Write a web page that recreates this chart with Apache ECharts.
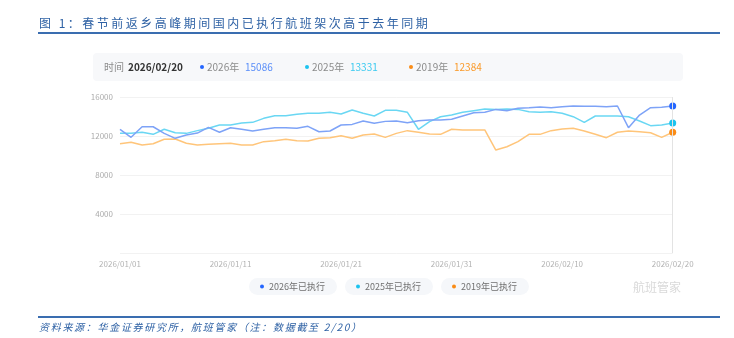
<!DOCTYPE html>
<html>
<head>
<meta charset="utf-8">
<script src="https://cdn.jsdelivr.net/npm/echarts@6/dist/echarts.min.js"></script>
<style>
  html, body { margin: 0; padding: 0; background: #ffffff; }
  #wrap { position: relative; width: 734px; height: 338px; overflow: hidden; }
  #chart { position: absolute; left: 0; top: 0; width: 734px; height: 338px; }
  .cap { position: absolute; white-space: nowrap; font-family: "Noto Sans CJK SC", "Noto Sans", sans-serif; color: #2f62a5; }
  #title { left: 39px; top: 15px; font-size: 12px; line-height: 16px; letter-spacing: 2.5px; }
  #source { left: 39px; top: 320px; font-size: 10px; line-height: 14px; letter-spacing: 1.7px; font-style: italic; }
  .rule { position: absolute; left: 38px; width: 682px; height: 1.5px; background: #3a6db0; }
</style>
</head>
<body>
<div id="wrap">
  <div id="chart"></div>
  <div id="title" class="cap">图 1：春节前返乡高峰期间国内已执行航班架次高于去年同期</div>
  <div class="rule" style="top:32px"></div>
  <div class="rule" style="top:316px"></div>
  <div id="source" class="cap">资料来源：华金证券研究所，航班管家（注：数据截至 2/20）</div>
</div>
<script>
// Daily dates, 2026/01/01 – 2026/02/20
const dates = [
  '2026/01/01','2026/01/02','2026/01/03','2026/01/04','2026/01/05','2026/01/06','2026/01/07','2026/01/08','2026/01/09','2026/01/10',
  '2026/01/11','2026/01/12','2026/01/13','2026/01/14','2026/01/15','2026/01/16','2026/01/17','2026/01/18','2026/01/19','2026/01/20',
  '2026/01/21','2026/01/22','2026/01/23','2026/01/24','2026/01/25','2026/01/26','2026/01/27','2026/01/28','2026/01/29','2026/01/30',
  '2026/01/31','2026/02/01','2026/02/02','2026/02/03','2026/02/04','2026/02/05','2026/02/06','2026/02/07','2026/02/08','2026/02/09',
  '2026/02/10','2026/02/11','2026/02/12','2026/02/13','2026/02/14','2026/02/15','2026/02/16','2026/02/17','2026/02/18','2026/02/19',
  '2026/02/20'
];

// Executed domestic flights per day
const flights2026 = [
  12690, 11870, 12950, 12950, 12270, 11760, 12100, 12300, 12890, 12380,
  12850, 12690, 12510, 12690, 12850, 12850, 12790, 12990, 12440, 12510,
  13130, 13190, 13540, 13300, 13500, 13540, 13370, 13570, 13640, 13640,
  13710, 14050, 14390, 14430, 14730, 14600, 14840, 14900, 14970, 14900,
  15010, 15080, 15040, 15040, 15010, 15080, 12850, 14150, 14900, 14940,
  15086
];
const flights2025 = [
  12270, 12270, 12380, 12170, 12690, 12340, 12270, 12550, 12790, 13130,
  13130, 13330, 13400, 13810, 14080, 14080, 14220, 14330, 14330, 14430,
  14260, 14670, 14330, 14050, 14630, 14630, 14430, 12690, 13470, 13980,
  14150, 14430, 14600, 14770, 14730, 14770, 14730, 14490, 14430, 14490,
  14330, 13980, 13400, 14050, 14050, 14050, 13980, 13540, 13060, 13130,
  13331
];
const flights2019 = [
  11210, 11350, 11080, 11210, 11660, 11690, 11250, 11080, 11150, 11210,
  11250, 11080, 11080, 11420, 11520, 11660, 11520, 11490, 11760, 11830,
  12030, 11760, 12100, 12210, 11860, 12270, 12550, 12380, 12210, 12170,
  12690, 12620, 12620, 12620, 10560, 10900, 11420, 12170, 12170, 12550,
  12720, 12790, 12510, 12170, 11830, 12380, 12510, 12440, 12340, 11860,
  12384
];

const seriesNames = ['2026年已执行', '2025年已执行', '2019年已执行'];
const yearNames = ['2026年', '2025年', '2019年'];
const yTicks = [0, 4000, 8000, 12000, 16000];

const FONT = '"Noto Sans CJK SC", "Noto Sans", sans-serif';
const lineColors = ['#7ea3f7', '#6ad7f3', '#ffc57a'];
const dotColors = ['#2466ff', '#1cc3ef', '#fa8c16'];
const valueColors = ['#5b8ff9', '#3ccaf0', '#fa9a2a'];

const allSeries = [flights2026, flights2025, flights2019];
const lastIdx = dates.length - 1;

const chart = echarts.init(document.getElementById('chart'), null, { renderer: 'canvas', width: 734, height: 338 });

// Summary strip for the latest day
const headerX = [202, 307, 411];
const header = [
  { type: 'rect', shape: { x: 93, y: 53, width: 590, height: 28, r: 4 }, style: { fill: '#f7f8fa' }, silent: true },
  { type: 'text', x: 104, y: 67, style: { text: '时间', fill: '#8c8c8c', fontSize: 10, fontFamily: FONT, verticalAlign: 'middle' } },
  { type: 'text', x: 128, y: 67, style: { text: dates[lastIdx], fill: '#333333', fontSize: 10, fontWeight: 'bold', fontFamily: FONT, verticalAlign: 'middle' } }
];
headerX.forEach((hx, i) => {
  header.push({ type: 'circle', shape: { cx: hx, cy: 67, r: 2 }, style: { fill: dotColors[i] } });
  header.push({ type: 'text', x: hx + 5, y: 67, style: { text: yearNames[i], fill: '#8c8c8c', fontSize: 10, fontFamily: FONT, verticalAlign: 'middle' } });
  header.push({ type: 'text', x: hx + 43, y: 67, style: { text: String(allSeries[i][lastIdx]), fill: valueColors[i], fontSize: 10, fontFamily: FONT, verticalAlign: 'middle' } });
});
header.push({ type: 'text', x: 633, y: 287, style: { text: '航班管家', fill: '#d9d9d9', fontSize: 12, fontFamily: FONT, verticalAlign: 'middle' } });

const legendLeft = [249, 345, 441];
const legends = seriesNames.map((name, i) => ({
  data: [{ name: name, itemStyle: { color: dotColors[i] } }],
  left: legendLeft[i],
  top: 278,
  icon: 'circle',
  itemWidth: 4,
  itemHeight: 4,
  backgroundColor: '#f5f7fa',
  borderRadius: 9,
  padding: [4, 12, 4, 11],
  selectedMode: false,
  textStyle: { fontSize: 9, color: '#707070', fontFamily: FONT }
}));

const series = seriesNames.map((name, i) => ({
  name: name,
  type: 'line',
  data: allSeries[i],
  smooth: false,
  showSymbol: true,
  showAllSymbol: true,
  symbol: 'circle',
  symbolSize: (v, p) => (p.dataIndex === lastIdx ? 7 : 0),
  itemStyle: { color: dotColors[i], borderWidth: 0 },
  lineStyle: { color: lineColors[i], width: 1.5 },
  emphasis: { disabled: true },
  z: 3 - i,
  markLine: i === 0 ? {
    silent: true,
    symbol: 'none',
    label: { show: false },
    lineStyle: { color: '#e3e3e3', type: 'solid', width: 1 },
    data: [{ xAxis: dates[lastIdx] }]
  } : undefined
}));

chart.setOption({
  animation: false,
  textStyle: { fontFamily: FONT },
  grid: { left: 120, right: 61.3, top: 97, bottom: 85, containLabel: false },
  legend: legends,
  xAxis: {
    type: 'category',
    data: dates,
    boundaryGap: false,
    axisLine: { show: false },
    axisTick: { show: false },
    axisLabel: { interval: 9, color: '#b3b3b3', fontSize: 8, margin: 7 },
    splitLine: { show: false }
  },
  yAxis: {
    type: 'value',
    min: yTicks[0],
    max: yTicks[yTicks.length - 1],
    interval: 4000,
    axisLine: { show: false },
    axisTick: { show: false },
    axisLabel: { color: '#ababab', fontSize: 8, margin: 7, formatter: v => (v === 0 ? '' : String(v)) },
    splitLine: { lineStyle: { color: '#f2f2f2', width: 1 } }
  },
  graphic: header,
  series: series
});
</script>
</body>
</html>
